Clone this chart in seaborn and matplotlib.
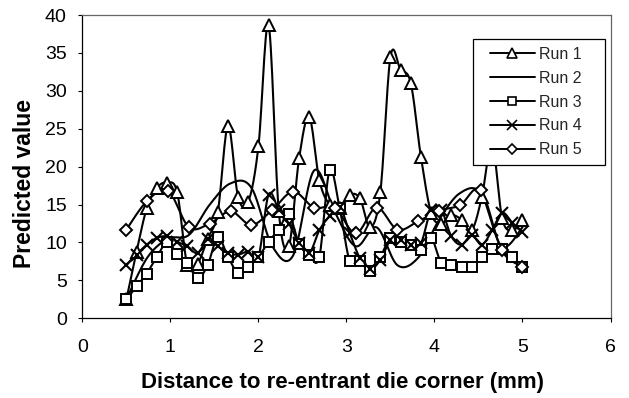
import numpy as np
import matplotlib
matplotlib.use("Agg")
import matplotlib.pyplot as plt
import seaborn as sns
from matplotlib.lines import Line2D
from matplotlib.patches import Rectangle

# ---- data ----
x40 = [0.500, 0.615, 0.731, 0.846, 0.962, 1.077, 1.192, 1.308, 1.423, 1.538,
       1.654, 1.769, 1.885, 2.000, 2.115, 2.231, 2.346, 2.462, 2.577, 2.692,
       2.808, 2.923, 3.038, 3.154, 3.269, 3.385, 3.500, 3.615, 3.731, 3.846,
       3.962, 4.077, 4.192, 4.308, 4.423, 4.538, 4.654, 4.769, 4.885, 5.000]
x20 = [0.500, 0.737, 0.974, 1.211, 1.447, 1.684, 1.921, 2.158, 2.395, 2.632,
       2.868, 3.105, 3.342, 3.579, 3.816, 4.053, 4.289, 4.526, 4.763, 5.000]

run1 = [2.5, 8.8, 14.5, 17.2, 17.9, 16.6, 7.0, 7.2, 10.5, 14.0,
        25.4, 16.0, 15.4, 22.7, 38.7, 14.1, 9.5, 21.1, 26.6, 18.2,
        15.0, 14.5, 16.3, 15.8, 12.0, 16.6, 34.5, 32.8, 31.0, 21.3,
        13.9, 12.5, 13.6, 13.0, 11.6, 16.0, 23.0, 13.2, 11.6, 13.0]
run2 = [2.5, 8.0, 10.5, 11.0, 15.0, 17.8, 17.2, 9.5, 8.3, 19.5,
        14.0, 9.5, 12.0, 7.0, 8.0, 13.0, 16.5, 16.5, 9.5, 12.0]
run3 = [2.5, 4.2, 5.9, 8.1, 10.0, 8.5, 7.3, 5.3, 7.0, 10.7,
        8.1, 6.0, 6.8, 8.1, 10.1, 11.7, 13.7, 9.8, 8.4, 8.1,
        19.5, 14.5, 7.5, 7.5, 6.2, 8.1, 10.6, 10.1, 9.7, 9.0,
        10.6, 7.3, 7.0, 6.8, 6.8, 8.1, 9.2, 9.2, 8.1, 6.8]
run4 = [7.0, 8.4, 9.7, 10.6, 10.8, 10.1, 9.5, 8.6, 10.4, 9.5,
        8.6, 8.4, 8.8, 8.1, 16.3, 14.3, 12.5, 9.9, 8.6, 11.6,
        13.5, 14.7, 11.2, 7.9, 6.5, 7.7, 10.3, 10.3, 9.7, 9.9,
        14.3, 14.3, 10.8, 9.7, 11.0, 9.7, 11.6, 13.9, 12.6, 11.4]
run5 = [11.7, 15.5, 16.8, 12.0, 12.5, 14.1, 12.3, 14.3, 16.7, 14.6,
        14.6, 11.2, 14.6, 11.7, 12.8, 14.2, 14.9, 16.9, 9.0, 6.8]

labels = ["Run 1", "Run 2", "Run 3", "Run 4", "Run 5"]
xticks = [0, 1, 2, 3, 4, 5, 6]
yticks = [0, 5, 10, 15, 20, 25, 30, 35, 40]


def smooth(x, y, n=14):
    pts = np.column_stack([np.asarray(x, float), np.asarray(y, float)])
    P = np.vstack([pts[0], pts, pts[-1]])
    t = np.linspace(0, 1, n, endpoint=False)[:, None]
    out = []
    for i in range(1, len(P) - 2):
        p0, p1, p2, p3 = P[i - 1], P[i], P[i + 1], P[i + 2]
        c1 = p1 + (p2 - p0) / 6.0
        c2 = p2 - (p3 - p1) / 6.0
        b = ((1 - t) ** 3) * p1 + 3 * (1 - t) ** 2 * t * c1 + 3 * (1 - t) * t ** 2 * c2 + t ** 3 * p2
        out.append(b)
    out.append(pts[-1:])
    s = np.vstack(out)
    return s[:, 0], s[:, 1]


sns.set_theme(style="white")
plt.rcParams["font.family"] = ["Liberation Sans", "DejaVu Sans"]

fig = plt.figure(figsize=(6.29, 3.98), dpi=100)
ax = fig.add_axes([0.131, 0.2003, 0.8396, 0.762])

series = [
    (x40, run1, "^", 8.5),
    (x20, run2, None, 0),
    (x40, run3, "s", 7),
    (x40, run4, "x", 8.5),
    (x20, run5, "D", 6),
]

handles = []
for (xs, ys, mk, ms), lab in zip(series, labels):
    sx, sy = smooth(xs, ys)
    sns.lineplot(x=sx, y=sy, sort=False, estimator=None, color="black",
                 lw=1.5, ax=ax, legend=False)
    if mk is not None:
        if mk == "x":
            ax.plot(xs, ys, linestyle="none", marker="x", ms=ms, mew=1.5,
                    color="black", zorder=3)
        else:
            ax.plot(xs, ys, linestyle="none", marker=mk, ms=ms, mew=1.4,
                    mfc="white", mec="black", zorder=3)
    handles.append(Line2D([], [], color="black", lw=1.4, marker=mk if mk else None,
                          ms=ms * 0.8, mfc="white", mec="black", mew=1.2))

ax.set_xlim(0, 6)
ax.set_ylim(0, 40)
ax.set_xticks(xticks)
ax.set_yticks(yticks)
ax.set_xticklabels([str(v) for v in xticks])
ax.set_yticklabels([str(v) for v in yticks])
ax.tick_params(axis="both", which="major", direction="out", length=3.2, width=0.8,
               color="black", labelsize=14, labelcolor="black",
               bottom=True, left=True)
ax.tick_params(axis="x", pad=12)
ax.tick_params(axis="y", pad=8)
for side in ["left", "bottom", "top", "right"]:
    ax.spines[side].set_visible(True)
    ax.spines[side].set_color("black" if side in ("left", "bottom") else "#666666")
    ax.spines[side].set_linewidth(0.9)

ax.set_xlabel("Distance to re-entrant die corner (mm)", fontsize=16,
              fontweight="bold", color="black")
ax.set_ylabel("Predicted value", fontsize=16.5, fontweight="bold", color="black")
ax.xaxis.set_label_coords((342.5 - 82.5) / 528, (318.3 - 372) / 303.3)
ax.yaxis.set_label_coords((36 - 82.5) / 528, (318.3 - 184) / 303.3)

# legend box (Excel-style, opaque, covers the lines beneath)
x0, x1 = (473 - 82.5) / 528, (605 - 82.5) / 528
y0, y1 = (318.3 - 165) / 303.3, (318.3 - 39) / 303.3
ax.add_patch(Rectangle((x0, y0), x1 - x0, y1 - y0, transform=ax.transAxes,
                       facecolor="white", edgecolor="black", lw=0.9, zorder=4))
leg = ax.legend(handles, labels, loc="upper left",
                bbox_to_anchor=((490 - 82.5) / 528, (318.3 - 47) / 303.3),
                frameon=False, fontsize=11.5, handlelength=2.8,
                handletextpad=0.3, labelspacing=0.55, borderpad=0,
                borderaxespad=0)
leg.set_zorder(5)

fig.savefig("out.png", dpi=100)
